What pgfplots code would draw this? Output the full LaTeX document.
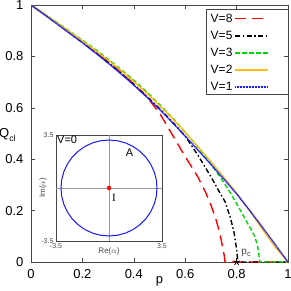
\documentclass[border=0pt]{standalone}
\usepackage{fontspec}
\setmainfont{Liberation Sans}
\newfontfamily\seriffont{Liberation Serif}
\usepackage{pgfplots}
\pgfplotsset{compat=1.18}
\usetikzlibrary{plotmarks}
\definecolor{vyel}{RGB}{255,190,20}
\definecolor{vgreen}{RGB}{0,215,0}
\definecolor{vblue}{RGB}{25,25,255}
\definecolor{axgray}{RGB}{70,70,70}
\begin{document}
\begin{tikzpicture}
\begin{axis}[
  scale only axis, width=257pt, height=257pt,
  at={(0pt,0pt)}, anchor=south west,
  xmin=0, xmax=1, ymin=0, ymax=1,
  xtick={0,0.2,0.4,0.6,0.8,1}, ytick={0,0.2,0.4,0.6,0.8,1},
  xticklabels={0,0.2,0.4,0.6,0.8,1}, yticklabels={0,0.2,0.4,0.6,0.8,1},
  tick align=inside, major tick length=4pt,
  axis line style={axgray, line width=0.8pt}, tick style={axgray, line width=0.6pt},
  /pgf/number format/assume math mode=true,
  tick label style={font=\fontsize{13}{15}\selectfont},
  xticklabel style={yshift=-4pt},
  yticklabel style={xshift=-4pt},
  clip mode=individual,
  legend style={at={(0.932,0.98)}, anchor=north east, draw=none, fill=none,
    font=\fontsize{12}{14}\selectfont, legend plot pos=right, legend cell align=left,
    inner sep=1.5pt, row sep=3.2pt},
  legend image code/.code={\draw[#1] (0pt,0pt) -- (33pt,0pt);},
]
\draw[axgray, line width=0.6pt] (rel axis cs:0.681,0.984) rectangle (rel axis cs:1,0.654);
\addplot[red, line width=1.4pt, dash pattern=on 11pt off 6pt] coordinates {
(0,1)(0.05,0.965)(0.1,0.93)(0.15,0.894)(0.2,0.857)(0.25,0.819)(0.3,0.779)(0.35,0.737)(0.4,0.692)(0.45,0.643)(0.5,0.58)(0.55,0.495)(0.6,0.41)(0.65,0.33)(0.68,0.27)(0.7,0.222)(0.72,0.165)(0.735,0.11)(0.745,0.062)(0.752,0.025)(0.755,0)(0.8,0)(0.9,0)(1,0)};
\addlegendentry{V=8}
\addplot[black, line width=1.4pt, dash pattern=on 5pt off 2.5pt on 1.5pt off 2.5pt] coordinates {
(0,1)(0.05,0.965)(0.1,0.929)(0.15,0.892)(0.2,0.855)(0.25,0.817)(0.3,0.777)(0.35,0.735)(0.4,0.691)(0.45,0.645)(0.5,0.597)(0.55,0.545)(0.6,0.49)(0.65,0.415)(0.7,0.332)(0.73,0.278)(0.755,0.235)(0.775,0.175)(0.79,0.115)(0.8,0.05)(0.805,0)(0.9,0)(1,0)};
\addlegendentry{V=5}
\addplot[vgreen, line width=1.4pt, dash pattern=on 4.5pt off 2.5pt] coordinates {
(0,1)(0.05,0.967)(0.1,0.933)(0.15,0.898)(0.2,0.863)(0.25,0.827)(0.3,0.789)(0.35,0.749)(0.4,0.707)(0.45,0.662)(0.5,0.613)(0.55,0.561)(0.6,0.505)(0.65,0.446)(0.7,0.382)(0.75,0.31)(0.78,0.262)(0.8,0.227)(0.82,0.192)(0.84,0.155)(0.86,0.12)(0.87,0.1)(0.88,0.07)(0.886,0.035)(0.89,0)(0.95,0)(1,0)};
\addlegendentry{V=3}
\addplot[vyel, line width=1.4pt] coordinates {
(0,1)(0.05,0.966)(0.1,0.931)(0.15,0.896)(0.2,0.86)(0.25,0.823)(0.3,0.785)(0.35,0.745)(0.4,0.702)(0.45,0.657)(0.5,0.609)(0.55,0.558)(0.6,0.504)(0.65,0.448)(0.7,0.39)(0.75,0.33)(0.8,0.268)(0.85,0.2)(0.9,0.128)(0.95,0.058)(1,0)};
\addlegendentry{V=2}
\addplot[vblue, line width=1.4pt, dash pattern=on 1pt off 0.5pt] coordinates {
(0,1)(0.05,0.964)(0.1,0.927)(0.15,0.890)(0.2,0.853)(0.25,0.814)(0.3,0.774)(0.35,0.732)(0.4,0.688)(0.45,0.642)(0.5,0.594)(0.55,0.543)(0.6,0.490)(0.65,0.435)(0.7,0.380)(0.75,0.323)(0.8,0.265)(0.85,0.202)(0.9,0.136)(0.95,0.068)(1,0)};
\addlegendentry{V=1}
\addplot[black, only marks, mark=star, mark size=3.5pt, line width=0.8pt, forget plot] coordinates {(0.8,0)};
\node[font=\fontsize{10}{12}\selectfont, text=axgray, anchor=center] at (axis cs:0.837,0.035) {p\raisebox{-0.35ex}{\fontsize{7.5}{9}\selectfont c}};
\node[font=\fontsize{13}{15}\selectfont, anchor=base] at (axis description cs:0.5,-0.082) {p};
\node[font=\fontsize{13}{15}\selectfont, anchor=center] at (axis description cs:-0.092,0.494) {Q\raisebox{-0.45ex}{\fontsize{8.5}{10}\selectfont cl}};
\end{axis}
\begin{axis}[
  scale only axis, width=106pt, height=106pt,
  at={(25pt,21pt)}, anchor=south west,
  xmin=-3.5, xmax=3.5, ymin=-3.5, ymax=3.5,
  xtick={-3.5,3.5}, ytick={-3.5,3.5},
  xticklabels={-3.5,3.5}, yticklabels={-3.5,3.5},
  major tick length=0pt,
  axis line style={axgray, line width=0.8pt},
  axis background/.style={fill=white},
  /pgf/number format/assume math mode=true,
  tick label style={font=\fontsize{7}{8}\selectfont, text=axgray},
  xticklabel style={yshift=1pt},
  yticklabel style={xshift=1pt},
  extra x ticks={0}, extra x tick labels={}, extra y ticks={0}, extra y tick labels={},
  extra tick style={grid=major, major grid style={black!40, line width=0.6pt}},
  clip mode=individual,
]
\addplot[vblue, line width=1pt] coordinates {
(3.17,0)(3.122,0.550)(2.979,1.084)(2.745,1.585)(2.428,2.038)(2.038,2.428)(1.585,2.745)(1.084,2.979)(0.550,3.122)(0,3.17)
(-0.550,3.122)(-1.084,2.979)(-1.585,2.745)(-2.038,2.428)(-2.428,2.038)(-2.745,1.585)(-2.979,1.084)(-3.122,0.550)(-3.17,0)
(-3.122,-0.550)(-2.979,-1.084)(-2.745,-1.585)(-2.428,-2.038)(-2.038,-2.428)(-1.585,-2.745)(-1.084,-2.979)(-0.550,-3.122)(0,-3.17)
(0.550,-3.122)(1.084,-2.979)(1.585,-2.745)(2.038,-2.428)(2.428,-2.038)(2.745,-1.585)(2.979,-1.084)(3.122,-0.550)(3.17,0)};
\addplot[red, only marks, mark=*, mark size=2pt] coordinates {(0,0)};
\node[font=\fontsize{11}{13}\selectfont, anchor=north west, inner sep=1pt] at (axis cs:-3.5,3.5) {V=0};
\node[font=\fontsize{11}{13}\selectfont, anchor=center] at (axis cs:1.35,2.3) {A};
\node[font=\fontsize{11}{13}\selectfont\seriffont, anchor=center] at (axis cs:0.33,-0.65) {I};
\node[font=\fontsize{8}{10}\selectfont, text=axgray, anchor=center] at (axis description cs:0.5,-0.094) {Re($\alpha$)};
\node[font=\fontsize{8}{10}\selectfont, text=axgray, anchor=center, rotate=90] at (axis description cs:-0.123,0.5) {Im($\alpha$)};
\end{axis}
\pgfresetboundingbox
\path (-31pt,-28pt) rectangle (260pt,262pt);
\end{tikzpicture}
\end{document}
